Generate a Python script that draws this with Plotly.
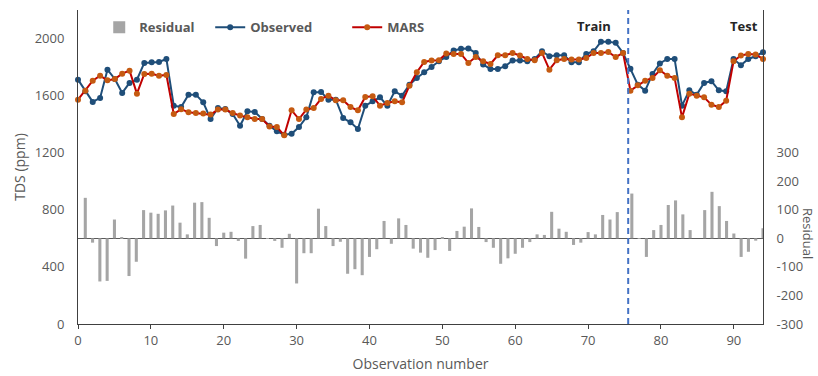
import plotly.graph_objects as go

# Observed / MARS series (94 points, drawn on an overlaid category-like axis)
point_number = list(range(94))
observed = [1712, 1630, 1556, 1584, 1782, 1717, 1619, 1689, 1712, 1829, 1834, 1836, 1857, 1530, 1520,
            1607, 1607, 1553, 1436, 1513, 1506, 1471, 1389, 1490, 1485, 1436, 1389,
            1350, 1326, 1333, 1380, 1448, 1623, 1626, 1572, 1572, 1443, 1413, 1366, 1530, 1560, 1588,
            1530, 1630, 1600, 1677, 1724, 1764, 1801, 1841, 1871, 1916,
            1928, 1930, 1899, 1818, 1787, 1787, 1806, 1846, 1846, 1841, 1857, 1911, 1876, 1883, 1883,
            1834, 1834, 1892, 1911, 1977, 1977, 1970, 1899, 1789,
            1677, 1635, 1752, 1825, 1857, 1857, 1530, 1637, 1607, 1689, 1701, 1637, 1630, 1857, 1813,
            1857, 1876, 1904]
mars = [1572, 1635, 1705, 1740, 1707, 1717, 1754, 1775, 1614, 1752, 1754, 1740, 1745, 1471, 1505,
        1483, 1478, 1474, 1467, 1502, 1502, 1478, 1460, 1448, 1436, 1436, 1384,
        1380, 1322, 1497, 1436, 1502, 1513, 1577, 1600, 1567, 1567, 1520, 1497, 1591, 1595, 1530,
        1548, 1560, 1553, 1670, 1764, 1836, 1846, 1848, 1895, 1892,
        1892, 1829, 1871, 1841, 1822, 1883, 1883, 1899, 1881, 1857, 1848, 1899, 1782, 1848, 1857,
        1853, 1853, 1864, 1899, 1899, 1906, 1871, 1899, 1635,
        1673, 1705, 1724, 1778, 1740, 1724, 1448, 1614, 1600, 1588, 1537, 1520, 1565, 1841, 1881,
        1892, 1888, 1857]

# Residual bars on the observation-number axis
residual_number = list(range(1, 95))
residual = [142, -15, -151, -149, 66, 2, -132, -82, 99, 90, 86, 98, 115, 55, 14, 125, 127, 72, -27, 20,
            23, -9, -71, 43, 47, -2, -9, -33, 16, -158, -52, -52, 104, 43, -27, -12, -124, -108, -129, -65,
            -38, 61, -19, 70, 47, -36, -50, -68, -41, 3, -44, 26, 41, 105, 40, -13, -33, -89, -70, -54,
            -33, -13, 14, 12, 93, 34, 23, -23, -15, 22, 14, 82, 66, 92, 0, 157, -2, -65, 29, 47,
            117, 133, 84, 29, 0, 99, 163, 113, 61, 17, -65, -47, -8, 35]

split_position = 75.5
x_ticks = [0, 10, 20, 30, 40, 50, 60, 70, 80, 90]
tds_ticks = [0, 400, 800, 1200, 1600, 2000]
res_ticks = [-300, -200, -100, 0, 100, 200, 300]
res_ticktext = ["-300", "-200", "-100", "0", "100", "200", "300"]

FONT = "Open Sans"
TICK_COLOR = "#595959"
AXIS_COLOR = "#404040"
LEGEND_FONT = dict(size=13, color="#595959", weight="bold")


def legend_box(xpos):
    return dict(orientation="h", x=xpos, y=0.945, xanchor="left", yanchor="middle",
                bgcolor="rgba(0,0,0,0)", font=LEGEND_FONT, itemwidth=30)


fig = go.Figure()
fig.add_trace(go.Bar(x=residual_number, y=residual, name="Residual", xaxis="x", yaxis="y",
                     legend="legend", marker=dict(color="#A5A5A5", line=dict(width=0)), width=0.42))
fig.add_trace(go.Scatter(x=point_number, y=observed, name="Observed", mode="lines+markers",
                         xaxis="x2", yaxis="y2", cliponaxis=False, legend="legend2",
                         line=dict(color="#1F4E79", width=2),
                         marker=dict(color="#1F4E79", size=6)))
fig.add_trace(go.Scatter(x=point_number, y=mars, name="MARS", mode="lines+markers",
                         xaxis="x2", yaxis="y2", cliponaxis=False, legend="legend3",
                         line=dict(color="#C00000", width=2),
                         marker=dict(color="#C55A11", size=6)))

fig.update_layout(
    width=818, height=376,
    margin=dict(l=78, r=55, t=10, b=52, autoexpand=False),
    paper_bgcolor="white", plot_bgcolor="white",
    font=dict(family=FONT, color=TICK_COLOR, size=13),
    showlegend=True,
    legend=legend_box(0.031),
    legend2=legend_box(0.193),
    legend3=legend_box(0.393),
    xaxis=dict(range=[0, 94], tickvals=x_ticks, showline=True, linecolor=AXIS_COLOR, linewidth=1,
               ticks="outside", ticklen=4, tickcolor=AXIS_COLOR, showgrid=False, zeroline=False,
               automargin=False, ticklabelstandoff=0,
               title=dict(text="Observation number", font=dict(size=14, color=TICK_COLOR), standoff=11),
               tickfont=dict(size=13, color=TICK_COLOR)),
    xaxis2=dict(range=[0, 93], overlaying="x", visible=False, showgrid=False, zeroline=False,
                automargin=False),
    yaxis=dict(range=[-300, 800], tickvals=res_ticks, ticktext=res_ticktext, side="right",
               showline=True, linecolor=AXIS_COLOR, linewidth=1, showgrid=False,
               zeroline=True, zerolinecolor="#595959", zerolinewidth=1, ticks="",
               automargin=False, ticklabelstandoff=10,
               tickfont=dict(size=13, color=TICK_COLOR)),
    yaxis2=dict(range=[0, 2200], tickvals=tds_ticks, side="left", overlaying="y", anchor="x",
                showline=True, linecolor=AXIS_COLOR, linewidth=1,
                showgrid=False, zeroline=False, ticks="", automargin=False, ticklabelstandoff=10,
                tickfont=dict(size=13, color=TICK_COLOR),
                title=dict(text="TDS (ppm)", font=dict(size=14, color=TICK_COLOR), standoff=5)),
    shapes=[dict(type="line", xref="x", yref="paper", x0=split_position, x1=split_position, y0=0, y1=1,
                 line=dict(color="#4472C4", width=2, dash="6px,4px"))],
    annotations=[
        dict(text="Train", xref="x", yref="paper", x=split_position - 2.1, y=0.948, xanchor="right",
             yanchor="middle", showarrow=False, font=dict(size=13, color="#262626", weight="bold")),
        dict(text="Test", xref="x", yref="paper", x=93.6, y=0.948, xanchor="right",
             yanchor="middle", showarrow=False, font=dict(size=13, color="#262626", weight="bold")),
        dict(text="Residual", xref="paper", yref="paper", x=1.0, xshift=45, y=0.29, textangle=90,
             xanchor="center", yanchor="middle", showarrow=False,
             font=dict(size=13, color=TICK_COLOR)),
    ],
)

fig.write_html("out.html", config={"displayModeBar": False},
               post_script="document.body.style.margin='0';document.body.style.padding='0';")
